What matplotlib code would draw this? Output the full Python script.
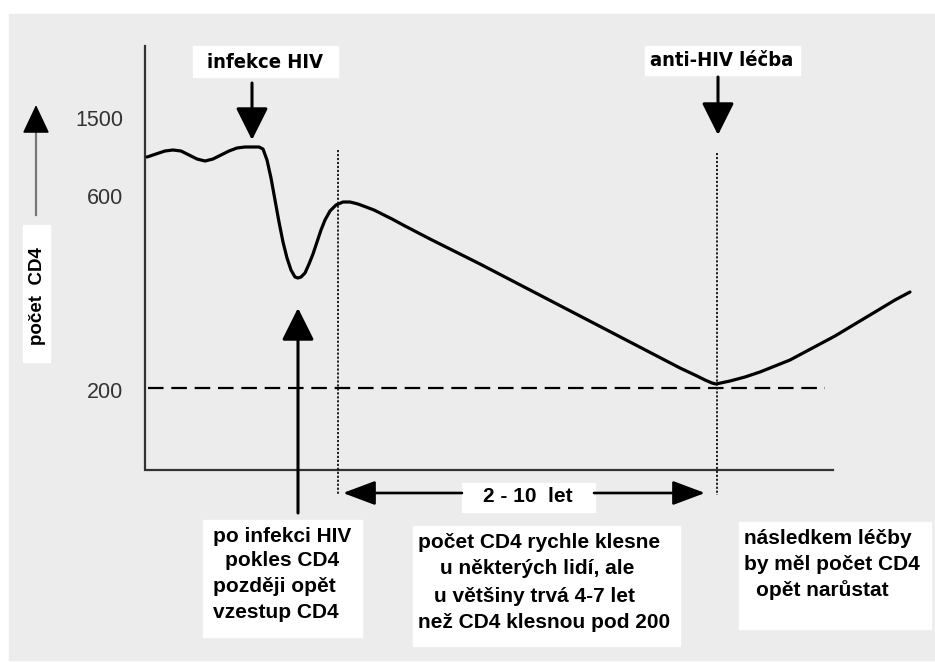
import matplotlib
matplotlib.use('Agg')
import matplotlib.pyplot as plt
from matplotlib.patches import Rectangle

# CD4 curve (x = time in px, y = drawn height in px)
cd4_x = [147, 156, 165, 173, 181, 189, 197, 205, 213, 221, 229, 237, 245, 253, 259,
         263, 267, 271, 275, 279, 283, 287, 291, 295, 298, 301, 305, 309, 313, 317,
         321, 325, 330, 336, 343, 350, 358, 366, 374, 382, 392, 405, 430, 480, 530,
         580, 630, 680, 697, 705, 712, 716, 730, 745, 760, 775, 790, 805, 820, 835,
         850, 865, 880, 895, 910]
cd4_y = [157, 154, 151, 150, 151, 155, 159, 161, 159, 155, 151, 148, 147, 147, 147,
         149, 160, 178, 200, 222, 242, 258, 270, 277, 278, 277, 273, 264, 254, 242,
         230, 220, 211, 205, 202, 202, 204, 207, 210, 214, 219, 226, 239, 264, 290,
         316, 342, 368, 376, 380, 383, 384, 381, 377, 372, 366, 360, 352, 344, 336,
         327, 318, 309, 300, 292]

tick_labels = ['1500', '600', '200']
tick_pos = [120, 198, 393]
threshold_y = 388          # CD4 = 200 line
event_x = [338, 717]       # infection end / start of therapy

BG = '#ebeceb'
AXC = '#333333'

fig = plt.figure(figsize=(9.35, 6.62), dpi=100)
fig.patch.set_facecolor('white')
ax = fig.add_axes([0, 0, 1, 1])
ax.set_xlim(0, 935)
ax.set_ylim(662, 0)
ax.axis('off')

ax.add_patch(Rectangle((9, 14), 926, 646, color=BG, zorder=0))

# axes lines
ax.plot([145, 145, 833], [46, 470, 470], color=AXC, lw=1.6, solid_joinstyle='miter', zorder=2)

# tick labels
for lab, yp in zip(tick_labels, tick_pos):
    ax.text(123, yp, lab, ha='right', va='center', fontsize=15.5, color='#333333',
            family=['Liberation Sans', 'DejaVu Sans'])

# threshold dashed line and dotted event lines
ax.plot([148, 825], [threshold_y, threshold_y], color='k', lw=1.6,
        ls=(0, (7, 3.5)), zorder=2)
for ex, top in zip(event_x, [150, 153]):
    ax.plot([ex, ex], [top, 495], color='#111111', lw=1.3, ls=(0, (1.2, 1.0)), zorder=2)

# the CD4 curve
ax.plot(cd4_x, cd4_y, color='k', lw=2.3, solid_capstyle='round',
        solid_joinstyle='round', zorder=3)


def arrow(tail, tip, lw=2.2, hl=2.0, hw=1.0):
    ax.annotate('', xy=tip, xytext=tail,
                arrowprops=dict(arrowstyle=f'-|>,head_length={hl},head_width={hw}',
                                mutation_scale=10, lw=lw, color='k',
                                shrinkA=0, shrinkB=0), zorder=4)


# y axis label arrow (grey shaft, black head)
ax.plot([36, 36], [215, 128], color='#777777', lw=1.6)
arrow((36, 131), (36, 105), lw=1.2, hl=1.8, hw=0.85)

# event arrows
arrow((252, 83), (252, 140))
arrow((718, 77), (718, 135))
arrow((298, 513), (298, 308))
arrow((462, 493), (343, 493), lw=1.9, hl=2.0, hw=0.75)
arrow((594, 493), (705, 493), lw=1.9, hl=2.0, hw=0.75)

bold = dict(family=['Liberation Sans', 'DejaVu Sans'], fontweight='bold', color='k')
narrow = dict(family=['DejaVu Sans'], fontstretch='condensed',
              fontweight='bold', color='k')

# white label boxes
boxes = [(193, 46, 145, 31), (645, 46, 155, 29), (23, 225, 27, 137),
         (462, 483, 133, 29), (203, 520, 159, 117), (413, 526, 267, 120),
         (739, 522, 192, 107)]
for bx, by, bw, bh in boxes:
    ax.add_patch(Rectangle((bx, by), bw, bh, color='white', zorder=3))

ax.text(265, 62, 'infekce HIV', ha='center', va='center', fontsize=14.5, zorder=5, **narrow)
ax.text(722, 61, 'anti-HIV léčba', ha='center', va='center', fontsize=14.5, zorder=5, **narrow)
ax.text(37, 296, 'počet  CD4', ha='center', va='center', rotation=90, fontsize=13.5,
        zorder=5, **bold)
ax.text(528, 496, '2 - 10  let', ha='center', va='center', fontsize=15, zorder=5, **bold)

# explanatory notes, line by line
notes = [
    (['po infekci HIV', 'pokles CD4', 'později opět', 'vzestup CD4'],
     [213, 225, 213, 213], [536, 561, 587, 612]),
    (['počet CD4 rychle klesne', 'u některých lidí, ale', 'u většiny trvá 4-7 let',
      'než CD4 klesnou pod 200'],
     [418, 440, 434, 418], [543, 569, 596, 622]),
    (['následkem léčby', 'by měl počet CD4', 'opět narůstat'],
     [744, 744, 756], [538, 564, 590]),
]
for lines, xs, ys in notes:
    for t, xp, yp in zip(lines, xs, ys):
        ax.text(xp, yp, t, ha='left', va='center', fontsize=15, zorder=5, **bold)

fig.savefig('out.png', dpi=100, facecolor='white')
